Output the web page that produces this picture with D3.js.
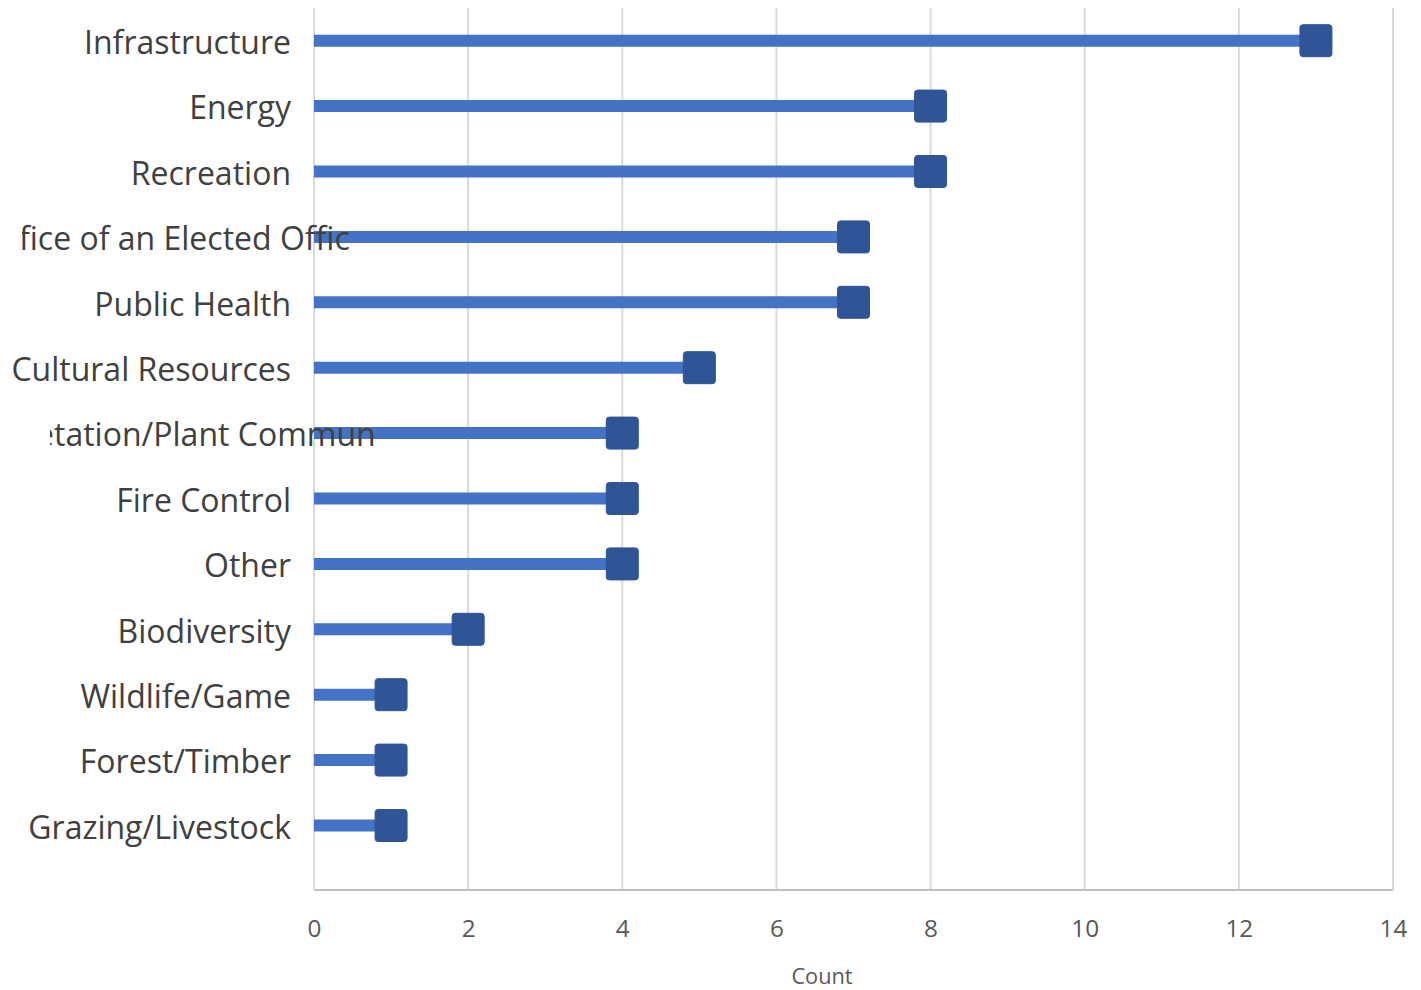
<!DOCTYPE html>
<html><head><meta charset="utf-8">
<script src="https://cdn.jsdelivr.net/npm/d3@7"></script>
<style>body{margin:0;background:#fff}svg{display:block}</style>
</head><body>
<svg id="c" width="1421" height="990"></svg>
<script>
const categories = ["Infrastructure","Energy","Recreation","Office of an Elected Official","Public Health","Cultural Resources","Vegetation/Plant Community","Fire Control","Other","Biodiversity","Wildlife/Game","Forest/Timber","Grazing/Livestock"];
const counts = [13,8,8,7,7,5,4,4,4,2,1,1,1];
const xTicks = [0,2,4,6,8,10,12,14];
const xTitle = "Count";

(function(){
const svg = d3.select("#c");
const F = "'Open Sans', sans-serif";
const pL = 314, pR = 1393, pT = 8, pB = 890;
const x = d3.scaleLinear().domain([0,14]).range([pL,pR]);
const y = d3.scaleBand().domain(categories).range([pT, pT + 65.4*13]);

// fit label font so first label is ~207px wide (as in reference)
const probe = svg.append("text").attr("font-family",F).attr("font-size",30).text(categories[0]);
const fs = 30 * 207 / probe.node().getComputedTextLength();
probe.remove();

// gridlines
svg.append("g").selectAll("line").data(xTicks.filter(d=>d>0)).join("line")
  .attr("x1",d=>x(d)).attr("x2",d=>x(d)).attr("y1",pT).attr("y2",pB)
  .attr("stroke","#d9d9d9").attr("stroke-width",2);
// axes lines
svg.append("line").attr("x1",pL).attr("x2",pR).attr("y1",pB).attr("y2",pB).attr("stroke","#bfbfbf").attr("stroke-width",2);
svg.append("line").attr("x1",pL).attr("x2",pL).attr("y1",pT).attr("y2",pB).attr("stroke","#d9d9d9").attr("stroke-width",2);

// x axis via d3.axisBottom
const ax = svg.append("g").attr("transform",`translate(0,${pB})`)
  .call(d3.axisBottom(x).tickValues(xTicks).tickSize(0).tickPadding(30));
ax.select(".domain").remove();
ax.selectAll("text").attr("font-family",F).attr("font-size",fs*0.76).attr("fill","#595959");

svg.append("text").attr("x",822).attr("y",984).attr("text-anchor","middle")
  .attr("font-family",F).attr("font-size",fs*0.68).attr("fill","#595959").text(xTitle);

// stems
svg.append("g").selectAll("line").data(categories).join("line")
  .attr("x1",x(0)).attr("x2",(d,i)=>x(counts[i]))
  .attr("y1",d=>y(d)+y.bandwidth()/2).attr("y2",d=>y(d)+y.bandwidth()/2)
  .attr("stroke","#4472c4").attr("stroke-width",12);

// clip paths for overflowing labels (reference shows them cut off)
const defs = svg.append("defs");
const clipSpec = {"Office of an Elected Official":{x0:22,x1:350,prefix:"Of",adj:-3},
                  "Vegetation/Plant Community":{x0:50,x1:378,prefix:"Vege",adj:4}};
Object.entries(clipSpec).forEach(([k,s],i)=>{
  defs.append("clipPath").attr("id","cl"+i).append("rect")
    .attr("x",s.x0).attr("y",0).attr("width",s.x1-s.x0).attr("height",990);
  s.id="cl"+i;
});

// labels
const labels = svg.append("g");
categories.forEach(c=>{
  const cy = y(c)+y.bandwidth()/2;
  const t = labels.append("text").attr("y",cy+2).attr("dy","0.35em")
    .attr("font-family",F).attr("font-size",fs).attr("fill","#404040").text(c);
  if (clipSpec[c]) {
    const s = clipSpec[c];
    const tmp = labels.append("text").attr("font-family",F).attr("font-size",fs).text(s.prefix);
    const w = tmp.node().getComputedTextLength(); tmp.remove();
    t.attr("x", s.x0 - w + s.adj).attr("clip-path",`url(#${s.id})`);
  } else {
    t.attr("x",291).attr("text-anchor","end");
  }
});

// markers
const S = 32;
svg.append("g").selectAll("rect").data(categories).join("rect")
  .attr("x",(d,i)=>x(counts[i])-S/2).attr("y",d=>y(d)+y.bandwidth()/2-S/2)
  .attr("width",S).attr("height",S).attr("rx",3)
  .attr("fill","#2f5597").attr("stroke","#2f5597").attr("stroke-width",1);
})();
</script>
</body></html>
